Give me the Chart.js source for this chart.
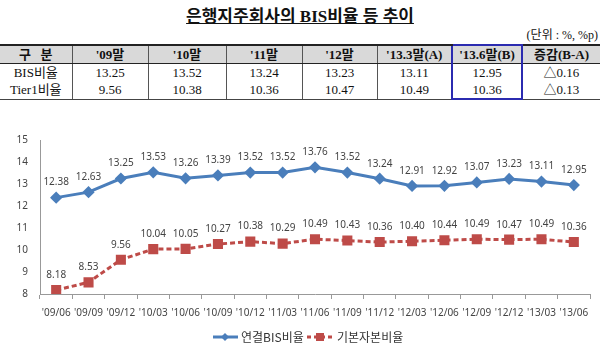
<!DOCTYPE html>
<html>
<head>
<meta charset="utf-8">
<script src="https://cdn.jsdelivr.net/npm/chart.js@4"></script>
<style>
  body { margin: 0; background: #fff; width: 600px; height: 348px; overflow: hidden; position: relative; }
  #title { position: absolute; top: 2px; left: 0; width: 600px; text-align: center;
    font: bold 17px "Liberation Serif", "Noto Sans CJK KR", serif; text-decoration: underline; color: #111; }
  #unit { position: absolute; top: 28px; right: 2px; font: 12px "Liberation Serif", "Noto Sans CJK KR", serif; color: #111; line-height: 14px; }
  table { position: absolute; top: 44px; left: 0; width: 600px; border-collapse: collapse; table-layout: fixed;
    font: 13px "Liberation Serif", "Noto Sans CJK KR", serif; color: #111; line-height: 15px; }
  th, td { text-align: center; padding: 0; border-left: 1px solid #555; border-right: 1px solid #555; }
  th { height: 17px; background: #d9d9d9; font-weight: bold; border-top: 2px solid #222; border-bottom: 1px solid #222; }
  td { height: 17px; }
  tr.last td { border-bottom: 1px solid #444; }
  th:first-child, td:first-child { border-left: none; }
  th:last-child, td:last-child { border-right: none; }
  .hl { border-left: 2px solid #2b2bb0; border-right: 2px solid #2b2bb0; }
  th.hl { border-top: 2px solid #2b2bb0; }
  tr.last td.hl { border-bottom: 2px solid #2b2bb0; }
  #wrap { position: absolute; top: 120px; left: 0; width: 600px; height: 228px; }
</style>
</head>
<body>
<div id="title">은행지주회사의 BIS비율 등 추이</div>
<div id="unit">(단위 : %, %p)</div>
<table>
  <colgroup>
    <col style="width:72px"><col style="width:76px"><col style="width:78px"><col style="width:76px">
    <col style="width:75px"><col style="width:75px"><col style="width:70px"><col style="width:78px">
  </colgroup>
  <tr><th>구 &nbsp; 분</th><th>'09말</th><th>'10말</th><th>'11말</th><th>'12말</th><th>'13.3말(A)</th><th class="hl">'13.6말(B)</th><th>증감(B-A)</th></tr>
  <tr><td>BIS비율</td><td>13.25</td><td>13.52</td><td>13.24</td><td>13.23</td><td>13.11</td><td class="hl">12.95</td><td>△0.16</td></tr>
  <tr class="last"><td>Tier1비율</td><td>9.56</td><td>10.38</td><td>10.36</td><td>10.47</td><td>10.49</td><td class="hl">10.36</td><td>△0.13</td></tr>
</table>
<div id="wrap"><canvas id="myChart"></canvas></div>
<script>
// 분기 라벨과 비율 값
var quarters = ["'09/06", "'09/09", "'09/12", "'10/03", "'10/06", "'10/09", "'10/12", "'11/03", "'11/06",
  "'11/09", "'11/12", "'12/03", "'12/06", "'12/09", "'12/12", "'13/03", "'13/06"];
var bisRatio = [12.38, 12.63, 13.25, 13.53, 13.26, 13.39, 13.52, 13.52, 13.76, 13.52, 13.24, 12.91, 12.92, 13.07, 13.23, 13.11, 12.95];
var tier1Ratio = [8.18, 8.53, 9.56, 10.04, 10.05, 10.27, 10.38, 10.29, 10.49, 10.43, 10.36, 10.40, 10.44, 10.49, 10.47, 10.49, 10.36];
var yTicks = [8, 9, 10, 11, 12, 13, 14, 15];

var blue = '#4a7ebb';
var red = '#be4b48';

// 값 라벨 + 범례 직접 그리기
var labelPlugin = {
  id: 'labels',
  afterDatasetsDraw: function(chart) {
    var ctx = chart.ctx;
    ctx.save();
    ctx.font = '10px "Noto Sans", sans-serif';
    ctx.fillStyle = '#444';
    ctx.textAlign = 'center';
    ctx.textBaseline = 'middle';
    chart.data.datasets.forEach(function(ds, i) {
      var meta = chart.getDatasetMeta(i);
      meta.data.forEach(function(pt, j) {
        ctx.fillText(ds.data[j].toFixed(2), pt.x, pt.y - 15);
      });
    });
    ctx.restore();
  },
  afterDraw: function(chart) {
    var ctx = chart.ctx;
    var y = 217;
    ctx.save();
    // 연결BIS비율
    ctx.strokeStyle = blue; ctx.lineWidth = 3;
    ctx.beginPath(); ctx.moveTo(213, y); ctx.lineTo(238, y); ctx.stroke();
    ctx.fillStyle = blue;
    ctx.beginPath(); ctx.moveTo(225, y - 4); ctx.lineTo(229, y); ctx.lineTo(225, y + 4); ctx.lineTo(221, y); ctx.closePath(); ctx.fill();
    // 기본자본비율
    ctx.strokeStyle = red; ctx.setLineDash([4, 3]);
    ctx.beginPath(); ctx.moveTo(307, y); ctx.lineTo(334, y); ctx.stroke();
    ctx.setLineDash([]);
    ctx.fillStyle = red;
    ctx.fillRect(316, y - 4, 8, 8);
    ctx.font = '12px "Noto Sans CJK KR", sans-serif';
    ctx.fillStyle = '#333';
    ctx.textBaseline = 'middle';
    ctx.fillText('연결BIS비율', 241, y);
    ctx.fillText('기본자본비율', 337, y);
    ctx.restore();
  }
};

var ctx = document.getElementById('myChart').getContext('2d');
var myChart = new Chart(ctx, {
  type: 'line',
  data: {
    labels: quarters,
    datasets: [{
      label: '연결BIS비율',
      data: bisRatio,
      borderColor: blue,
      backgroundColor: blue,
      borderWidth: 3,
      pointStyle: 'rectRot',
      pointRadius: 4,
      pointHoverRadius: 4,
      tension: 0
    }, {
      label: '기본자본비율',
      data: tier1Ratio,
      borderColor: red,
      backgroundColor: red,
      borderWidth: 3,
      borderDash: [5, 3],
      pointStyle: 'rect',
      pointRadius: 5,
      pointHoverRadius: 5,
      tension: 0
    }]
  },
  options: {
    responsive: true,
    maintainAspectRatio: false,
    animation: false,
    events: [],
    layout: { padding: { top: 20, right: 10, left: 0, bottom: 0 } },
    plugins: { legend: { display: false }, tooltip: { enabled: false } },
    scales: {
      x: {
        offset: true,
        grid: { display: true, drawOnChartArea: false, drawTicks: true, tickLength: 5, color: '#999', offset: true },
        border: { display: true, color: '#999', width: 1 },
        ticks: { font: { size: 10, family: '"Noto Sans", sans-serif' }, color: '#444', padding: 8, maxRotation: 0, autoSkip: false },
        afterFit: function(scale) { scale.height = 54; }
      },
      y: {
        min: 8,
        max: 15,
        afterBuildTicks: function(scale) { scale.ticks = yTicks.map(function(v) { return { value: v }; }); },
        grid: { display: false, drawTicks: false },
        border: { display: true, color: '#999', width: 1 },
        ticks: { font: { size: 10, family: '"Noto Sans", sans-serif' }, color: '#444', padding: 12 },
        afterFit: function(scale) { scale.width = 40; }
      }
    }
  },
  plugins: [labelPlugin]
});
</script>
</body>
</html>
